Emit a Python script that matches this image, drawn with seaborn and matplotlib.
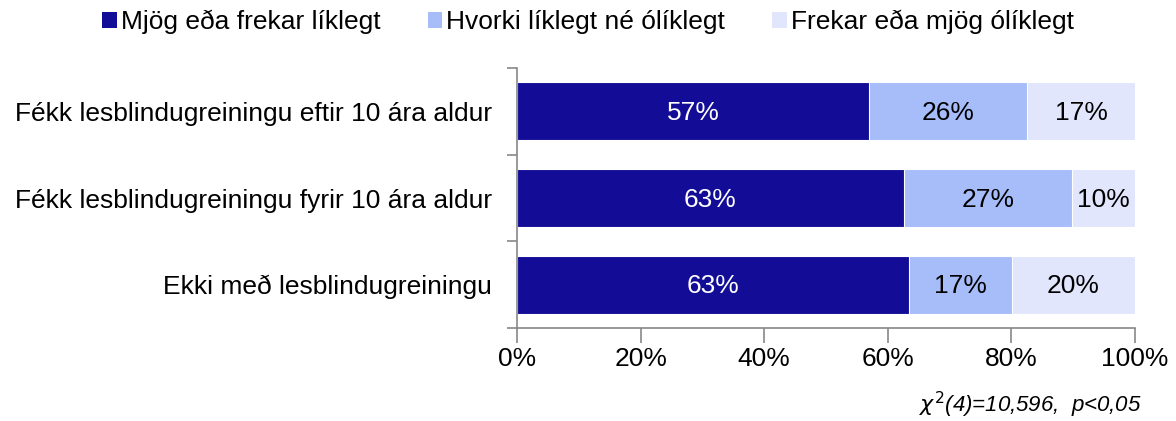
import numpy as np
import pandas as pd
import matplotlib
matplotlib.use("Agg")
import matplotlib.pyplot as plt
from matplotlib.patches import Patch
from matplotlib.ticker import FixedLocator
import seaborn as sns

categories = ["Fékk lesblindugreiningu eftir 10 ára aldur",
              "Fékk lesblindugreiningu fyrir 10 ára aldur",
              "Ekki með lesblindugreiningu"]
series_names = ["Mjög eða frekar líklegt", "Hvorki líklegt né ólíklegt", "Frekar eða mjög ólíklegt"]
likely = [57.0, 62.6, 63.4]
neutral = [25.6, 27.2, 16.7]
unlikely = [17.4, 10.2, 19.9]
labels_likely = ["57%", "63%", "63%"]
labels_neutral = ["26%", "27%", "17%"]
labels_unlikely = ["17%", "10%", "20%"]
xticks = [0, 20, 40, 60, 80, 100]
xticklabels = ["0%", "20%", "40%", "60%", "80%", "100%"]
colors = ["#120C96", "#A6BDF9", "#E2E6FD"]
text_colors = ["white", "black", "black"]

sns.set_theme(style="white")
plt.rcParams["font.family"] = ["Liberation Sans", "DejaVu Sans"]
plt.rcParams["text.color"] = "black"
plt.rcParams["xtick.labelcolor"] = "black"
plt.rcParams["ytick.labelcolor"] = "black"

FS = 19

fig = plt.figure(figsize=(11.76, 4.21), dpi=100)
ax = fig.add_axes([517/1176, 1-328/421, 618/1176, 260/421])

series = [likely, neutral, unlikely]
cum = np.cumsum(np.array(series), axis=0)
# draw cumulative totals from largest to smallest so stacks appear
for i in [2, 1, 0]:
    df = pd.DataFrame({"cat": categories, "val": cum[i]})
    sns.barplot(data=df, x="val", y="cat", order=categories, orient="h",
                color=colors[i], saturation=1, width=0.67, ax=ax,
                edgecolor="white", linewidth=0.8)

all_labels = [labels_likely, labels_neutral, labels_unlikely]
for i in range(3):
    for j in range(len(categories)):
        left = cum[i][j] - series[i][j]
        ax.text(left + series[i][j] / 2, j + 0.02, all_labels[i][j], ha="center", va="center",
                color=text_colors[i], fontsize=FS)

ax.set_xlim(0, 100)
ax.set_ylim(2.5, -0.5)
ax.set_xlabel("")
ax.set_ylabel("")
ax.set_xticks(xticks)
ax.set_xticklabels(xticklabels, fontsize=FS)
ax.set_yticks(range(len(categories)))
ax.set_yticklabels(categories, fontsize=FS)
ax.yaxis.set_minor_locator(FixedLocator([-0.5, 0.5, 1.5, 2.5]))
ax.tick_params(axis="y", which="major", length=0, pad=18, labelcolor="black")
ax.tick_params(axis="y", which="minor", length=7, color="#888888", width=1.2, left=True)
ax.tick_params(axis="x", which="major", length=11, color="#888888", width=1.2, bottom=True, pad=3,
               labelcolor="black")
for s in ["top", "right"]:
    ax.spines[s].set_visible(False)
for s in ["left", "bottom"]:
    ax.spines[s].set_color("#888888")
    ax.spines[s].set_linewidth(1.2)

handles = [Patch(facecolor=c, edgecolor="none") for c in colors]
fig.legend(handles, series_names, loc="center", bbox_to_anchor=(0.5, 1-22/421), ncol=3,
           frameon=False, fontsize=FS, handlelength=0.55, handleheight=0.55,
           handletextpad=0.15, columnspacing=1.8, labelcolor="black")

fig.text(1142/1176, 1-405/421, r"$\chi^{2}$(4)=10,596,  p<0,05", ha="right", va="center",
         fontsize=16, style="italic", color="black")

fig.savefig("out.png", dpi=100)
